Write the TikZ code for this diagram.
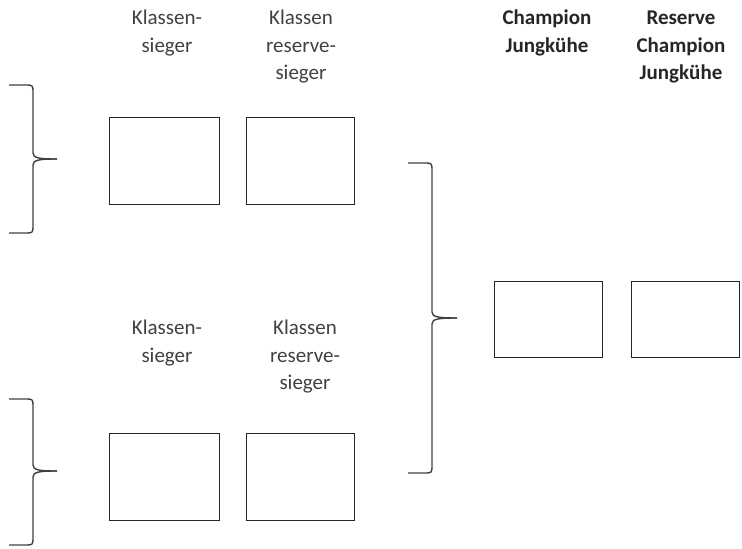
\documentclass[tikz,border=0pt]{standalone}
\usepackage{fontspec}
\setmainfont{Carlito}
\newcommand{\mybrace}[6]{% x0 x1 x2 yt ym yb
  \draw[brace] (#1,#4) -- ({#2-8},#4) .. controls (#2,#4) .. (#2,{#4+8})
     -- (#2,{#5-6}) .. controls (#2,{#5-1}) and ({#2+6},#5) .. (#3,#5);
  \draw[brace] (#1,#6) -- ({#2-8},#6) .. controls (#2,#6) .. (#2,{#6-8})
     -- (#2,{#5+6}) .. controls (#2,{#5+1}) and ({#2+6},#5) .. (#3,#5);
}
\begin{document}
\begin{tikzpicture}[x=1pt,y=-1pt,
  box/.style={draw=black!85,line width=1pt},
  lbl/.style={align=center,font=\fontsize{21}{27.5}\selectfont,text=black!75,anchor=north,inner sep=0pt},
  blbl/.style={lbl,font=\fontsize{21}{27.5}\selectfont\bfseries,text=black!85},
  brace/.style={draw=black!75,line width=1.4pt,line join=round}]
\useasboundingbox (0,0) rectangle (742,549);
% boxes
\draw[box] (109,117) rectangle (219,204) node[pos=.5] (b1) {};
\draw[box] (246,117) rectangle (354,204) node[pos=.5] (b2) {};
\draw[box] (109,433) rectangle (219,520) node[pos=.5] (b3) {};
\draw[box] (246,433) rectangle (354,520) node[pos=.5] (b4) {};
\draw[box] (494,281) rectangle (602,357) node[pos=.5] (b5) {};
\draw[box] (631,281) rectangle (739,357) node[pos=.5] (b6) {};
% labels
\node[lbl] (t1) at (167,10) {Klassen-\\sieger};
\node[lbl] (t2) at (301,10) {Klassen\\reserve-\\sieger};
\node[lbl] (t3) at (167,320) {Klassen-\\sieger};
\node[lbl] (t4) at (305,320) {Klassen\\reserve-\\sieger};
\node[blbl] (t5) at (547,10) {Champion\\Jungkühe};
\node[blbl] (t6) at (681,11) {Reserve\\Champion\\Jungkühe};
% braces
\mybrace{9}{33}{57}{85}{159}{233}
\mybrace{9}{33}{57}{399}{471}{545}
\mybrace{408}{432}{457}{163}{318}{473}
\end{tikzpicture}
\end{document}
